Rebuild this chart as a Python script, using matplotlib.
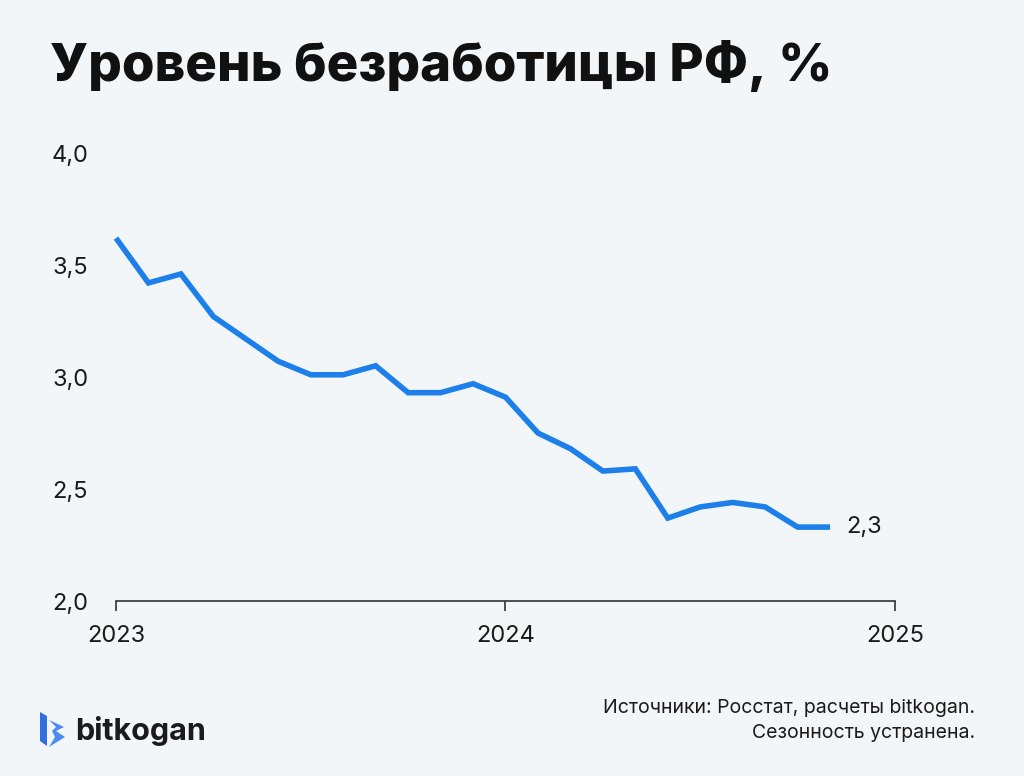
import matplotlib.pyplot as plt
from matplotlib.patches import Polygon

# monthly unemployment, Jan 2023 .. Nov 2024 (month index from Jan 2023)
months = list(range(23))
rate = [3.62, 3.42, 3.46, 3.27, 3.17, 3.07, 3.01, 3.01, 3.05, 2.93, 2.93, 2.97,
        2.91, 2.75, 2.68, 2.58, 2.59, 2.37, 2.42, 2.44, 2.42, 2.33, 2.33]
year_ticks = [0, 12, 24]
year_labels = ["2023", "2024", "2025"]
y_ticks = [2.0, 2.5, 3.0, 3.5, 4.0]
y_labels = ["2,0", "2,5", "3,0", "3,5", "4,0"]
last_label = "2,3"

BG = "#F3F6F9"
BLUE = "#1C7FEA"
FONT = ["Inter", "DejaVu Sans"]

plt.rcParams["font.family"] = FONT

W, H = 1024, 776
fig = plt.figure(figsize=(W / 100, H / 100), dpi=100, facecolor=BG)
ax = fig.add_axes([116 / W, 1 - 601 / H, (895 - 116) / W, (601 - 153) / H])
ax.set_facecolor(BG)

ax.plot(months, rate, color=BLUE, linewidth=4, solid_joinstyle="miter",
        solid_capstyle="butt", clip_on=False)
ax.annotate(last_label, (months[-1], rate[-1]), xytext=(12, 0),
            textcoords="offset points", va="center", ha="left",
            fontsize=17, color="#1a1a1a")

ax.set_xlim(0, 24)
ax.set_ylim(2.0, 4.0)
ax.set_xticks(year_ticks, year_labels, fontsize=17, color="#1a1a1a")
ax.set_yticks(y_ticks, y_labels, fontsize=17, color="#1a1a1a")
ax.tick_params(axis="x", length=7, width=1.2, color="#333333", pad=10)
ax.tick_params(axis="y", length=0, pad=33)
for lbl in ax.get_yticklabels():
    lbl.set_horizontalalignment("center")
for s in ["top", "right", "left"]:
    ax.spines[s].set_visible(False)
ax.spines["bottom"].set_color("#333333")
ax.spines["bottom"].set_linewidth(1.2)

fig.text(50 / W, 1 - 66 / H, "Уровень безработицы РФ, %", fontsize=38,
         fontweight="heavy", va="center", ha="left", color="#111111")

fig.text(975 / W, 1 - 708 / H, "Источники: Росстат, расчеты bitkogan.",
         fontsize=14, ha="right", va="center", color="#1a1a1a")
fig.text(975 / W, 1 - 733 / H, "Сезонность устранена.",
         fontsize=14, ha="right", va="center", color="#1a1a1a")

# logo
def px(x, y):
    return (x / W, 1 - y / H)

fig.patches.append(Polygon([px(40, 712), px(47, 716), px(47, 746), px(40, 741)],
                           closed=True, transform=fig.transFigure,
                           facecolor="#2F6FE0", edgecolor="none"))
fig.patches.append(Polygon([px(49, 720), px(64, 727), px(56, 731), px(65, 737),
                            px(49, 747), px(55, 737), px(52, 731), px(56, 727)],
                           closed=True, transform=fig.transFigure,
                           facecolor="#4A8CF0", edgecolor="none"))
fig.text(75 / W, 1 - 731 / H, "bitkogan", fontsize=22, fontweight="bold",
         va="center", ha="left", color="#1b1b1f")

fig.savefig("out.png", dpi=100, facecolor=BG)
